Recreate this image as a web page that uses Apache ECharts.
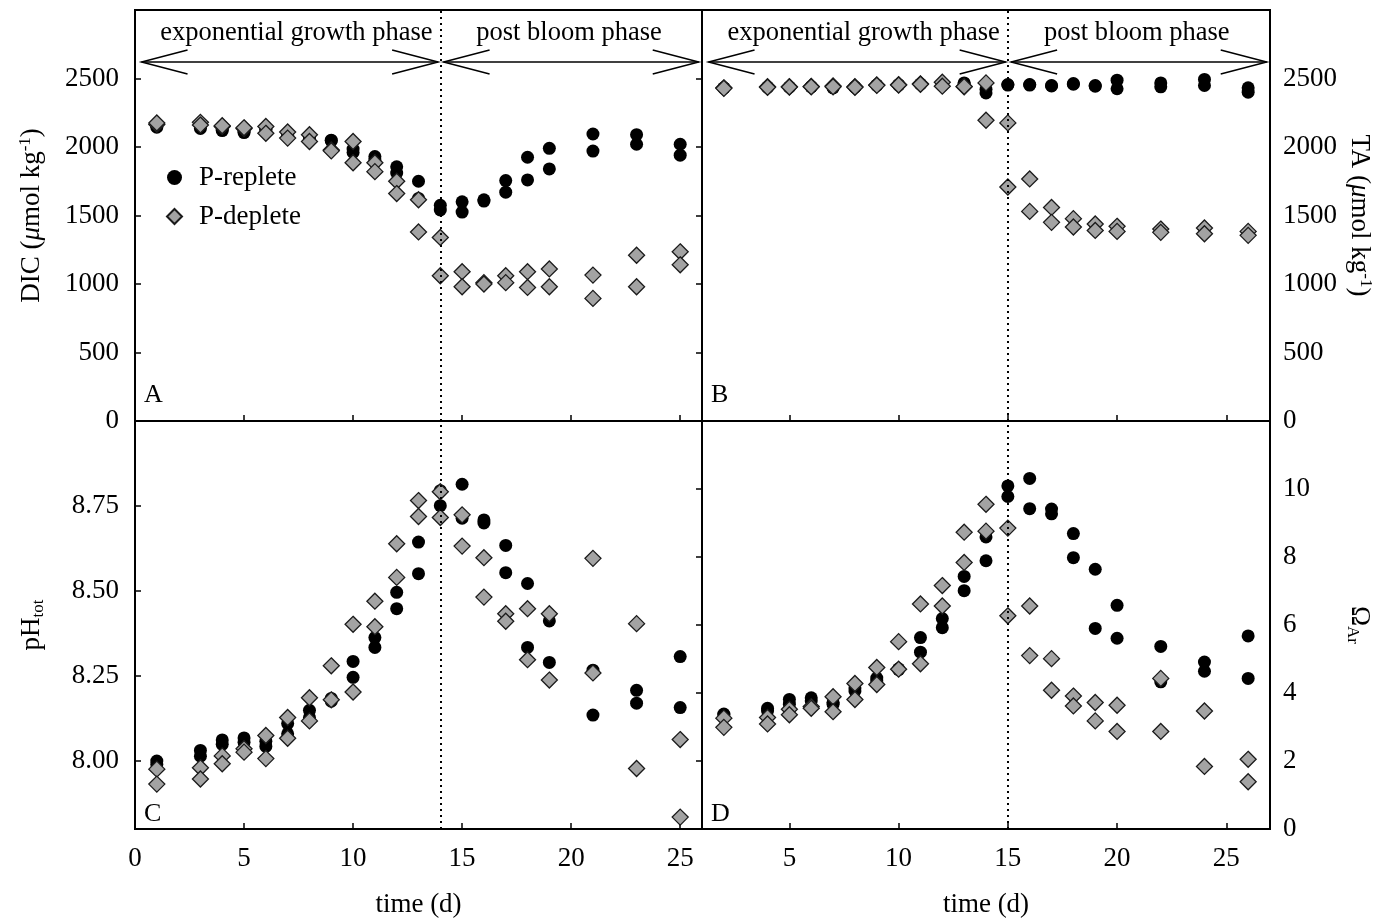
<!DOCTYPE html>
<html>
<head>
<meta charset="utf-8">
<style>
  html, body { margin: 0; padding: 0; background: #fff; }
  #main { width: 1385px; height: 919px; }
</style>
<script src="https://cdn.jsdelivr.net/npm/echarts@6/dist/echarts.min.js"></script>
</head>
<body>
<div id="main"></div>
<script>
// Sampling days of the culture experiment
const days = [1, 3, 4, 5, 6, 7, 8, 9, 10, 11, 12, 13, 14, 15, 16, 17, 18, 19, 21, 23, 25];

// DIC (µmol kg-1), two replicate cultures per treatment
const dicReplete1 = [2145, 2135, 2120, 2105, 2125, 2085, 2075, 2050, 1985, 1930, 1855, 1750, 1575, 1600, 1615, 1755, 1925, 1990, 2095, 2090, 2020];
const dicReplete2 = [2155, 2150, 2130, 2115, 2130, 2095, 2065, 2045, 1960, 1905, 1810, 1625, 1540, 1525, 1605, 1670, 1760, 1840, 1970, 2020, 1940];
const dicDeplete1 = [2165, 2180, 2150, 2135, 2150, 2110, 2090, 1978, 2040, 1885, 1750, 1615, 1340, 1090, 1010, 1060, 1090, 1110, 1065, 1210, 1235];
const dicDeplete2 = [2175, 2160, 2155, 2140, 2100, 2065, 2040, 1972, 1885, 1820, 1660, 1380, 1060, 980, 1000, 1010, 975, 980, 895, 980, 1140];

// Total alkalinity (µmol kg-1)
const taReplete1 = [2430, 2435, 2438, 2438, 2432, 2436, 2450, 2452, 2458, 2450, 2468, 2420, 2456, 2456, 2449, 2463, 2444, 2488, 2468, 2493, 2432];
const taReplete2 = [2432, 2438, 2436, 2440, 2435, 2438, 2452, 2455, 2460, 2460, 2460, 2395, 2452, 2452, 2446, 2458, 2448, 2425, 2439, 2449, 2400];
const taDeplete1 = [2432, 2440, 2440, 2442, 2445, 2440, 2453, 2455, 2461, 2473, 2439, 2468, 2176, 1767, 1559, 1477, 1438, 1421, 1401, 1409, 1384];
const taDeplete2 = [2428, 2436, 2438, 2440, 2440, 2436, 2450, 2452, 2458, 2444, 2442, 2195, 1708, 1530, 1450, 1416, 1391, 1384, 1377, 1367, 1355];

// pH on the total scale
const phReplete1 = [8.000, 8.031, 8.062, 8.068, 8.058, 8.110, 8.149, 8.184, 8.293, 8.363, 8.496, 8.644, 8.795, 8.814, 8.709, 8.634, 8.522, 8.412, 8.267, 8.208, 8.307];
const phReplete2 = [7.990, 8.014, 8.049, 8.055, 8.043, 8.080, 8.128, 8.176, 8.246, 8.334, 8.448, 8.551, 8.751, 8.714, 8.700, 8.554, 8.334, 8.290, 8.135, 8.170, 8.157];
const phDeplete1 = [7.976, 7.980, 8.015, 8.036, 8.075, 8.128, 8.186, 8.280, 8.402, 8.470, 8.639, 8.766, 8.792, 8.724, 8.598, 8.433, 8.448, 8.433, 8.596, 8.404, 8.063];
const phDeplete2 = [7.932, 7.947, 7.992, 8.026, 8.007, 8.067, 8.118, 8.180, 8.203, 8.395, 8.540, 8.719, 8.716, 8.632, 8.482, 8.411, 8.298, 8.238, 8.259, 7.978, 7.835];

// Aragonite saturation state
const omegaReplete1 = [3.38, 3.55, 3.81, 3.86, 3.72, 4.15, 4.44, 4.71, 5.63, 6.19, 7.43, 8.59, 10.09, 10.31, 9.41, 8.69, 7.64, 6.58, 5.37, 4.91, 5.68];
const omegaReplete2 = [3.35, 3.47, 3.67, 3.77, 3.67, 4.06, 4.35, 4.69, 5.20, 5.92, 7.01, 7.89, 9.78, 9.42, 9.27, 7.98, 5.90, 5.61, 4.33, 4.64, 4.43];
const omegaDeplete1 = [3.26, 3.28, 3.52, 3.60, 3.89, 4.28, 4.75, 5.51, 6.62, 7.16, 8.73, 9.55, 8.85, 6.56, 5.01, 3.91, 3.72, 3.64, 4.43, 3.47, 2.05];
const omegaDeplete2 = [2.99, 3.09, 3.36, 3.55, 3.45, 3.81, 4.25, 4.70, 4.86, 6.56, 7.84, 8.76, 6.27, 5.10, 4.08, 3.62, 3.18, 2.87, 2.87, 1.84, 1.39];

// Tick labels
const timeTicksLeft = [0, 5, 10, 15, 20, 25];
const timeTicksRight = [5, 10, 15, 20, 25];
const concTicks = [0, 500, 1000, 1500, 2000, 2500];
const phTicks = [8.00, 8.25, 8.50, 8.75];
const omegaTicks = [0, 2, 4, 6, 8, 10];

// Day that separates the two phases
const bloomEndDay = 14;
const phases = [
  { name: 'exponential growth phase', from: 0.3, to: 13.9, labelAt: 7.4 },
  { name: 'post bloom phase', from: 14.15, to: 25.85, labelAt: 19.9 }
];

const FONT = 'Liberation Serif';
const INK = '#000';
// the right-hand time axis is labelled one day ahead of its data
const rightAxisLabelShift = 1;

const chart = echarts.init(document.getElementById('main'), null, { renderer: 'canvas' });

const grids = [
  { left: 135, top: 10, width: 567, height: 411 },
  { left: 702, top: 10, width: 568, height: 411 },
  { left: 135, top: 421, width: 567, height: 408 },
  { left: 702, top: 421, width: 568, height: 408 }
].map(g => Object.assign({ show: true, borderColor: INK, borderWidth: 2, backgroundColor: 'transparent' }, g));

const labelText = { fontFamily: FONT, fontSize: 27, color: INK };
const tickStyle = { show: true, inside: true, length: 6, lineStyle: { color: INK, width: 1.5 } };
const lineStyle = { show: true, lineStyle: { color: INK, width: 2 } };

function nameRich() {
  return {
    t: { fontFamily: FONT, fontSize: 27, color: INK, lineHeight: 30 },
    i: { fontFamily: FONT, fontSize: 27, color: INK, lineHeight: 30, fontStyle: 'italic' },
    s: { fontFamily: FONT, fontSize: 17, color: INK, lineHeight: 14, verticalAlign: 'top' },
    b: { fontFamily: FONT, fontSize: 17, color: INK, lineHeight: 12, verticalAlign: 'bottom' }
  };
}

function timeAxis(gridIndex, ticks, showLabels, shift) {
  const pos = ticks.map(t => t - shift);
  return {
    type: 'value', gridIndex, min: 0, max: 26,
    axisLine: lineStyle,
    axisTick: Object.assign({ customValues: pos }, tickStyle),
    splitLine: { show: false },
    axisLabel: showLabels
      ? Object.assign({ customValues: pos, margin: 16, formatter: v => String(Math.round(v + shift)) }, labelText)
      : { show: false },
    name: showLabels ? 'time (d)' : '',
    nameLocation: 'middle',
    nameGap: 62,
    nameTextStyle: { fontFamily: FONT, fontSize: 27, color: INK }
  };
}

function valueAxis(gridIndex, position, min, max, ticks, digits, name, rotate, gap) {
  return {
    type: 'value', gridIndex, position, min, max,
    axisLine: lineStyle,
    axisTick: Object.assign({ customValues: ticks }, tickStyle),
    splitLine: { show: false },
    axisLabel: Object.assign({ customValues: ticks, margin: position === 'left' ? 16 : 13, formatter: v => v.toFixed(digits) }, labelText),
    name,
    nameLocation: 'middle',
    nameRotate: rotate,
    nameGap: gap,
    nameTextStyle: { rich: nameRich() }
  };
}

function pairs(r1, r2) {
  return days.map((d, i) => [d, r1[i]]).concat(days.map((d, i) => [d, r2[i]]));
}

const repleteStyle = { color: '#000', opacity: 1 };
const depleteStyle = { color: '#a3a3a3', borderColor: '#1a1a1a', borderWidth: 1.3, opacity: 1 };

function panelSeries(gridIndex, rep1, rep2, dep1, dep2) {
  return [
    {
      name: 'P-replete', type: 'scatter', xAxisIndex: gridIndex, yAxisIndex: gridIndex,
      symbol: 'circle', symbolSize: 13, itemStyle: repleteStyle,
      data: pairs(rep1, rep2),
      markLine: {
        silent: true, symbol: 'none', animation: false,
        label: { show: false },
        lineStyle: { color: INK, type: [2, 4], width: 2 },
        data: [{ xAxis: bloomEndDay }]
      }
    },
    {
      name: 'P-deplete', type: 'scatter', xAxisIndex: gridIndex, yAxisIndex: gridIndex,
      symbol: 'diamond', symbolSize: 16, itemStyle: depleteStyle,
      data: pairs(dep1, dep2)
    }
  ];
}

const option = {
  animation: false,
  backgroundColor: '#fff',
  grid: grids,
  legend: {
    data: ['P-replete', 'P-deplete'],
    orient: 'vertical', left: 161, top: 159,
    itemWidth: 15, itemHeight: 15, itemGap: 12,
    selectedMode: false,
    textStyle: { fontFamily: FONT, fontSize: 27, color: INK, padding: [0, 0, 0, 12] }
  },
  xAxis: [
    timeAxis(0, timeTicksLeft, false, 0),
    timeAxis(1, timeTicksRight, false, rightAxisLabelShift),
    timeAxis(2, timeTicksLeft, true, 0),
    timeAxis(3, timeTicksRight, true, rightAxisLabelShift)
  ],
  yAxis: [
    valueAxis(0, 'left', 0, 3000, concTicks, 0, '{t|DIC (}{i|μ}{t|mol kg}{s|-1}{t|)}', 90, 88),
    valueAxis(1, 'right', 0, 3000, concTicks, 0, '{t|TA (}{i|μ}{t|mol kg}{s|-1}{t|)}', -90, 74),
    valueAxis(2, 'left', 7.8, 9.0, phTicks, 2, '{t|pH}{b|tot}', 90, 88),
    valueAxis(3, 'right', 0, 12, omegaTicks, 0, '{t|Ω}{b|Ar}', -90, 74)
  ],
  series: [].concat(
    panelSeries(0, dicReplete1, dicReplete2, dicDeplete1, dicDeplete2),
    panelSeries(1, taReplete1, taReplete2, taDeplete1, taDeplete2),
    panelSeries(2, phReplete1, phReplete2, phDeplete1, phDeplete2),
    panelSeries(3, omegaReplete1, omegaReplete2, omegaDeplete1, omegaDeplete2)
  )
};

chart.setOption(option);

// Phase arrows and panel letters
const arrowLevel = 2620;
const phaseLabelLevel = 2830;
const panelLetters = [
  { text: 'A', left: 144, top: 382 },
  { text: 'B', left: 711, top: 382 },
  { text: 'C', left: 144, top: 801 },
  { text: 'D', left: 711, top: 801 }
];

const graphics = [];
const head = { len: 46, half: 12 };
const strokeStyle = { stroke: INK, lineWidth: 1.5, fill: null };
[0, 1].forEach(gi => {
  phases.forEach(p => {
    const a = chart.convertToPixel({ gridIndex: gi }, [p.from, arrowLevel]);
    const b = chart.convertToPixel({ gridIndex: gi }, [p.to, arrowLevel]);
    const t = chart.convertToPixel({ gridIndex: gi }, [p.labelAt, phaseLabelLevel]);
    graphics.push({ type: 'polyline', shape: { points: [a, b] }, style: strokeStyle, silent: true });
    graphics.push({ type: 'polyline', shape: { points: [[a[0] + head.len, a[1] - head.half], a, [a[0] + head.len, a[1] + head.half]] }, style: strokeStyle, silent: true });
    graphics.push({ type: 'polyline', shape: { points: [[b[0] - head.len, b[1] - head.half], b, [b[0] - head.len, b[1] + head.half]] }, style: strokeStyle, silent: true });
    graphics.push({
      type: 'text', x: t[0], y: t[1], silent: true,
      style: { text: p.name, fontFamily: FONT, fontSize: 26.5, fill: INK, align: 'center', verticalAlign: 'middle' }
    });
  });
});
panelLetters.forEach(l => {
  graphics.push({
    type: 'text', left: l.left, top: l.top, silent: true,
    style: { text: l.text, fontFamily: FONT, fontSize: 26, fill: INK }
  });
});
chart.setOption({ graphic: graphics });
</script>
</body>
</html>
